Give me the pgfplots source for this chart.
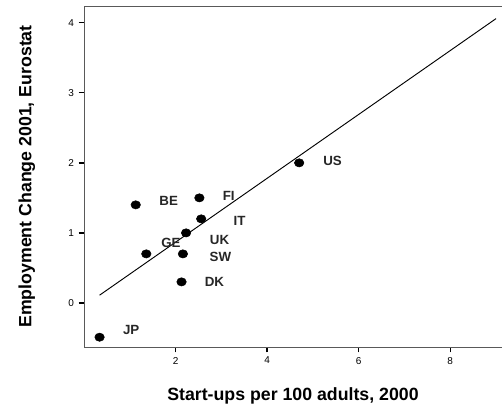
\documentclass[border=0pt]{standalone}
\usepackage{pgfplots}
\pgfplotsset{compat=1.18}
\usepackage{pgfplotstable}
\usepackage{fontspec}
\setmainfont{Liberation Sans}
\pgfplotstableread{
x y
0.34 -0.49
1.13 1.40
1.36 0.70
2.23 1.00
2.16 0.70
2.13 0.30
2.52 1.50
2.56 1.20
4.70 2.00
}\points
\pgfplotstableread{
x y lab
1.03 -0.39 JP
1.85 1.46 BE
1.90 0.86 GE
2.96 0.90 UK
2.98 0.65 SW
2.85 0.30 DK
3.16 1.53 FI
3.40 1.17 IT
5.43 2.03 US
}\labels
\begin{document}
\begin{tikzpicture}
\useasboundingbox (0,0) rectangle (376.5pt,303.75pt);
\begin{axis}[
  at={(63pt,43.5pt)}, anchor=south west,
  scale only axis, width=313.5pt, height=255.75pt,
  xmin=0, xmax=9.13, ymin=-0.63, ymax=4.24,
  xtick={2,4,6,8}, ytick={0,1,2,3,4},
  axis y line*=left,
  tick align=outside, tick pos=left,
  major tick length=4pt,
  every tick/.style={black, line width=1pt},
  tick label style={font=\fontsize{7.5}{8}\selectfont},
  /pgf/number format/assume math mode=true,
  axis line style={line width=0.6pt, gray!70!black},
  xlabel={\textbf{Start-ups per 100 adults, 2000}},
  ylabel={\textbf{Employment Change 2001, Eurostat}},
  label style={font=\fontsize{13.3}{15}\selectfont},
  xlabel style={yshift=-11pt},
  ylabel style={yshift=18pt},
  clip=false,
]
\addplot[black, line width=0.7pt] coordinates {(0.34,0.11) (9.0,4.06)};
\addplot[only marks, mark=*, mark size=3.1pt, black, mark options={xscale=1.15}] table[x=x,y=y] {\points};
\addplot[draw=none, mark=none, nodes near coords, point meta=explicit symbolic,
  every node near coord/.style={anchor=center, font=\fontsize{10}{12}\selectfont\bfseries, text=black!85}]
  table[x=x,y=y,meta=lab] {\labels};
\end{axis}
\end{tikzpicture}
\end{document}
